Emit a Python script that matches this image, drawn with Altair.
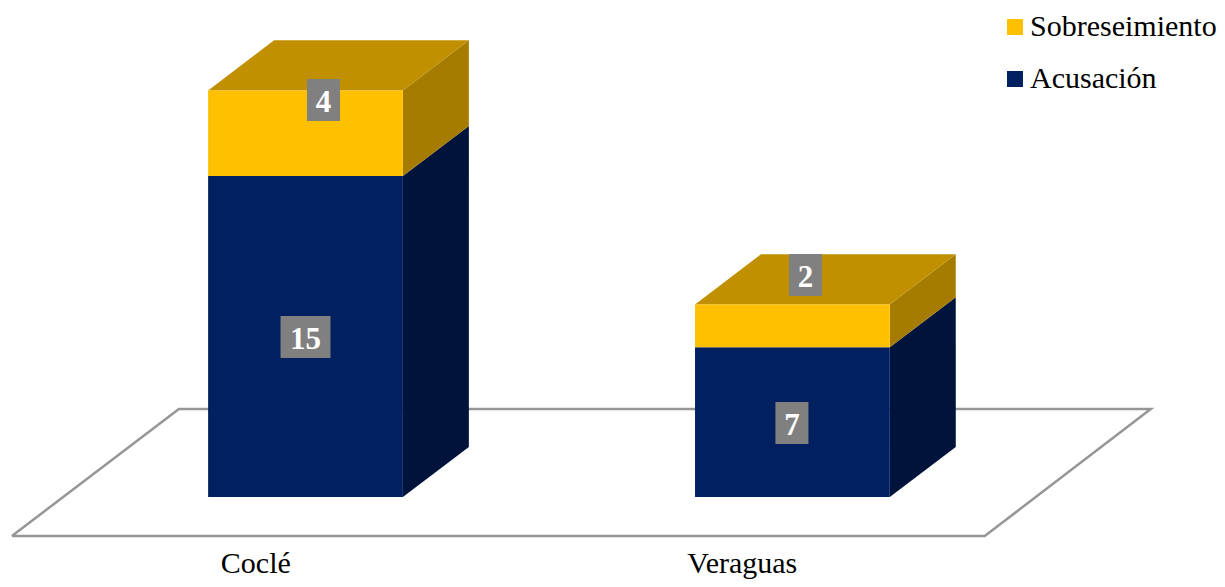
import altair as alt
import pandas as pd

categories = ["Coclé", "Veraguas"]
series = ["Sobreseimiento", "Acusación"]
acusacion = [15, 7]
sobreseimiento = [4, 2]

cat_pos = [0.0, 1.0]
bar_width = 0.4
depth_x = 0.1355
depth_y = 2.34

label_text = ["15", "7", "4", "2"]
label_x = [0.0, 0.999, 0.037, 1.027]
label_y = [7.48, 3.46, 18.55, 10.37]
label_half_w = [0.0513, 0.0339, 0.0339, 0.0339]
label_half_h = 0.98

floor_x = [-0.603, 1.395, 1.736, -0.26, -0.603]
floor_y = [-1.82, -1.82, 4.11, 4.11, -1.82]
floor_order = [0, 1, 2, 3, 4]

cat_label_x = [-0.102, 0.897]
cat_label_y = -3.53

NAVY, NAVY_SIDE = "#002060", "#00133A"
GOLD, GOLD_TOP, GOLD_SIDE = "#FFC000", "#C09000", "#A67C00"
FONT = "Liberation Serif"

x_scale = alt.Scale(domain=[-0.611, 1.872], range=[0, 1209], nice=False, zero=False)
y_scale = alt.Scale(domain=[-3.83, 22.85], range=[571, 0], nice=False, zero=False)
X = lambda f: alt.X(f, type="quantitative", scale=x_scale, axis=None)
Y = lambda f: alt.Y(f, type="quantitative", scale=y_scale, axis=None)

layers = []

floor = pd.DataFrame({"x": floor_x, "y": floor_y, "o": floor_order})
layers.append(
    alt.Chart(floor).mark_line(color="#969696", strokeWidth=2.5).encode(
        x=X("x"), y=Y("y"), order=alt.Order("o:Q")
    )
)

front_rows = []
for i, c in enumerate(cat_pos):
    left = c - bar_width / 2
    right = c + bar_width / 2
    top_a = acusacion[i]
    top_s = top_a + sobreseimiento[i]

    for b, t, col in [(0, top_a, NAVY_SIDE), (top_a, top_s, GOLD_SIDE)]:
        side = pd.DataFrame({
            "x": [right, right + depth_x],
            "y": [t, t + depth_y],
            "y2": [b, b + depth_y],
        })
        layers.append(
            alt.Chart(side).mark_area(color=col, orient="vertical").encode(
                x=X("x"), y=Y("y"), y2="y2:Q"
            )
        )

    top = pd.DataFrame({
        "x": [left, left + depth_x, right, right + depth_x],
        "y": [top_s, top_s + depth_y, top_s + depth_y, top_s + depth_y],
        "y2": [top_s, top_s, top_s, top_s + depth_y],
    })
    layers.append(
        alt.Chart(top).mark_area(color=GOLD_TOP, orient="vertical").encode(
            x=X("x"), y=Y("y"), y2="y2:Q"
        )
    )

    front_rows.append({"x": left, "x2": right, "y": 0, "y2": top_a, "s": series[1]})
    front_rows.append({"x": left, "x2": right, "y": top_a, "y2": top_s, "s": series[0]})

layers.append(
    alt.Chart(pd.DataFrame(front_rows)).mark_rect().encode(
        x=X("x"), x2="x2:Q", y=Y("y"), y2="y2:Q",
        color=alt.Color(
            "s:N",
            scale=alt.Scale(domain=series, range=[GOLD, NAVY]),
            sort=series,
            legend=alt.Legend(
                title=None,
                orient="none",
                legendX=992,
                legendY=4,
                symbolType="square",
                symbolSize=256,
                symbolStrokeWidth=0,
                symbolOpacity=1,
                labelFont=FONT,
                labelFontSize=30,
                labelColor="#000000",
                labelOffset=0,
                labelLimit=300,
                rowPadding=22,
                padding=0,
            ),
        ),
    )
)

labels = pd.DataFrame({
    "t": label_text,
    "x": label_x,
    "y": label_y,
    "x1": [a - b for a, b in zip(label_x, label_half_w)],
    "x2": [a + b for a, b in zip(label_x, label_half_w)],
    "y1": [a - label_half_h for a in label_y],
    "y2": [a + label_half_h for a in label_y],
})
layers.append(
    alt.Chart(labels).mark_rect(color="#808080").encode(
        x=X("x1"), x2="x2:Q", y=Y("y1"), y2="y2:Q"
    )
)
layers.append(
    alt.Chart(labels).mark_text(
        font=FONT, fontSize=31, fontWeight="bold", color="#FFFFFF",
        baseline="middle", align="center", dy=3
    ).encode(x=X("x"), y=Y("y"), text="t:N")
)

cats = pd.DataFrame({"c": categories, "x": cat_label_x, "y": [cat_label_y] * 2})
layers.append(
    alt.Chart(cats).mark_text(
        font=FONT, fontSize=30, color="#000000", baseline="alphabetic", align="center"
    ).encode(x=X("x"), y=Y("y"), text="c:N")
)

chart = alt.layer(*layers).properties(
    width=1209,
    height=571,
    padding=0,
    background="#FFFFFF",
    autosize=alt.AutoSizeParams(type="none"),
).configure_view(stroke=None)

chart.save("out.html", embed_options={"renderer": "svg", "actions": False})
